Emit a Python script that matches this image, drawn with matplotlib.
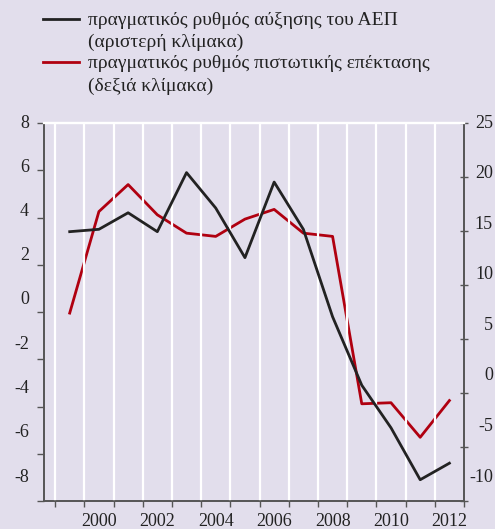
import numpy as np
import matplotlib
matplotlib.use("Agg")
import matplotlib.pyplot as plt
from matplotlib.lines import Line2D
from matplotlib.transforms import offset_copy

# Data (annual %)
years = np.arange(1999, 2013)
gdp_growth = [3.4, 3.5, 4.2, 3.4, 5.9, 4.4, 2.3, 5.5, 3.5, -0.2, -3.1, -4.9, -7.1, -6.4]
credit_growth = [7.4, 16.8, 19.3, 16.5, 14.8, 14.5, 16.1, 17.0, 14.8, 14.5, -1.0, -0.9, -4.1, -0.7]

left_ticks = [8, 6, 4, 2, 0, -2, -4, -6, -8]
right_ticks = [25, 20, 15, 10, 5, 0, -5, -10]
year_labels = [2000, 2002, 2004, 2006, 2008, 2010, 2012]

legend_gdp = ["πραγματικός ρυθμός αύξησης του ΑΕΠ", "(αριστερή κλίμακα)"]
legend_credit = ["πραγματικός ρυθμός πιστωτικής επέκτασης", "(δεξιά κλίμακα)"]

bg = "#e2deec"
black = "#222222"
red = "#b00010"
spine_col = "#555555"
font = "Liberation Serif"
fs = 13

fig = plt.figure(figsize=(4.95, 5.29), dpi=100, facecolor=bg)
ax = fig.add_axes([44 / 495, 1 - 501 / 529, 420 / 495, 378 / 529], facecolor=bg)
ax2 = ax.twinx()

ax.set_xlim(1998.62, 2013.0)
ax.set_ylim(-8, 8)
ax2.set_ylim(-10, 25)

# white year separators
for yr in range(1999, 2013):
    ax.axvline(yr, color="white", lw=1.6, zorder=0)

ax.set_xticks(range(1999, 2014))
ax.set_xticklabels([])
ax.set_xticks([y + 0.5 for y in year_labels], minor=True)
ax.set_xticklabels([str(y) for y in year_labels], minor=True,
                   fontfamily=font, fontsize=fs, color="#222222")
ax.tick_params(axis="x", which="major", direction="out", length=4, width=1, color=spine_col)
ax.tick_params(axis="x", which="minor", length=0, pad=9)

ax.set_yticks(left_ticks)
ax.set_yticklabels([])
ax.tick_params(axis="y", direction="out", length=5, width=1, color=spine_col)
ax2.set_yticks(right_ticks)
ax2.set_yticklabels([])
ax2.tick_params(axis="y", direction="inout", length=6, width=1, color=spine_col)

for a in (ax, ax2):
    a.spines["top"].set_color("white")
    a.spines["top"].set_linewidth(1.6)
    for s in ("left", "right", "bottom"):
        a.spines[s].set_color(spine_col)
        a.spines[s].set_linewidth(1.2)

# tick labels are spread a bit tighter than the tick marks in the original
r = 354 / 378
left_tr = offset_copy(ax.transAxes, fig=fig, x=-15, y=0, units="dots")
for v in left_ticks:
    f = 1 - (8 - v) / 16 * r
    ax.text(0, f, str(v), transform=left_tr, ha="right", va="center",
            fontfamily=font, fontsize=fs, color="#222222")
right_tr = offset_copy(ax.transAxes, fig=fig, x=29, y=0, units="dots")
for v in right_ticks:
    f = 1 - (25 - v) / 35 * r
    ax.text(1, f, str(v), transform=right_tr, ha="right", va="center",
            fontfamily=font, fontsize=fs, color="#222222")

ax.plot(years + 0.5, gdp_growth, color=black, lw=2.0, zorder=3)
ax2.plot(years + 0.5, credit_growth, color=red, lw=2.0, zorder=3)
ax.set_zorder(ax2.get_zorder() + 1)
ax.patch.set_visible(False)
ax2.patch.set_facecolor(bg)

# legend
W, H = 495, 529
for col, lines, y0 in ((black, legend_gdp, 20.5), (red, legend_credit, 64)):
    fig.add_artist(Line2D([43 / W, 79 / W], [1 - (y0 - 2) / H] * 2, color=col, lw=2.0))
    for i, t in enumerate(lines):
        fig.text(88 / W, 1 - (y0 + i * 22) / H, t, ha="left", va="center",
                 fontfamily=font, fontsize=14, color="#222222")

fig.savefig("out.png", dpi=100, facecolor=bg)
